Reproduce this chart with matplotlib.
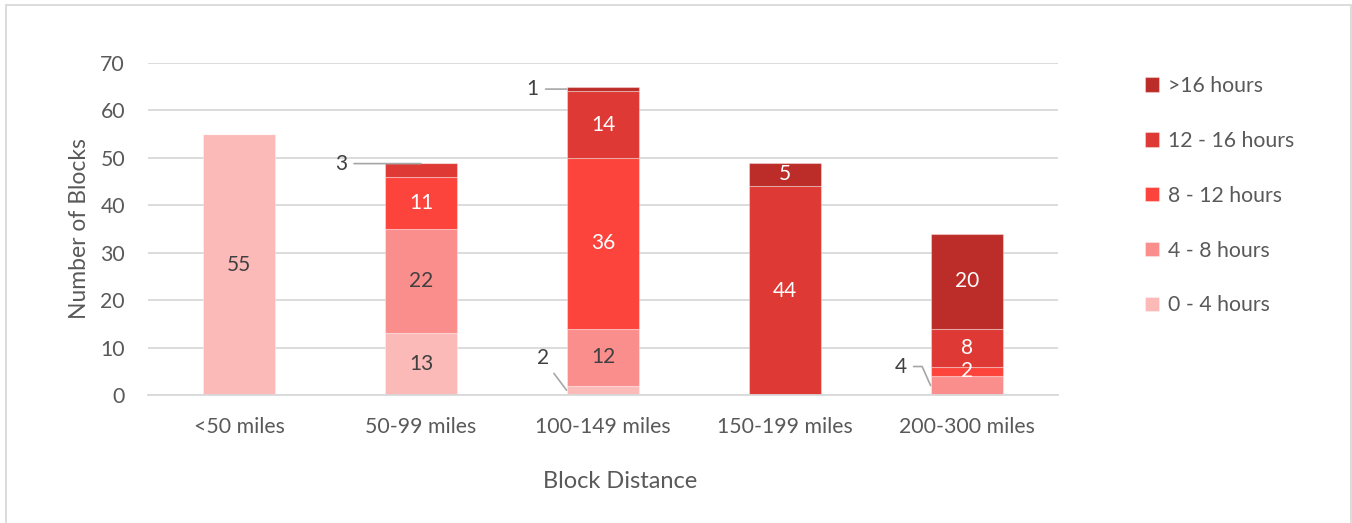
import matplotlib
matplotlib.use("Agg")
import matplotlib.pyplot as plt
from matplotlib.patches import Rectangle
import numpy as np

# Data
categories = ["<50 miles", "50-99 miles", "100-149 miles", "150-199 miles", "200-300 miles"]
series_names = ["0 - 4 hours", "4 - 8 hours", "8 - 12 hours", "12 - 16 hours", ">16 hours"]
hours_0_4 = [55, 13, 2, 0, 0]
hours_4_8 = [0, 22, 12, 0, 4]
hours_8_12 = [0, 11, 36, 0, 2]
hours_12_16 = [0, 3, 14, 44, 8]
hours_16_plus = [0, 0, 1, 5, 20]
y_ticks = [0, 10, 20, 30, 40, 50, 60, 70]

series = [hours_0_4, hours_4_8, hours_8_12, hours_12_16, hours_16_plus]
colors = ["#FBB9B7", "#F98E8C", "#FC433C", "#DE3934", "#BC2C28"]
label_colors = ["#404040", "#404040", "white", "white", "white"]

# small segments get a callout instead of an inside label:
# (category index, series index) -> (offset x px, offset y px, anchor x, anchor y frac, connection)
callouts = {
    (1, 3): (-80, 0, 0.0, 0.93, "arc3"),
    (2, 4): (-34, 0, -0.2, 0.5, "arc3"),
    (2, 0): (-24, 32, -0.2, 0.5, "arc3"),
    (4, 1): (-30, 19, -0.2, 0.5, "angle,angleA=0,angleB=114,rad=0"),
}

plt.rcParams["font.family"] = ["Lato", "DejaVu Sans"]
W, H, DPI = 1352, 523, 100
fig = plt.figure(figsize=(W / DPI, H / DPI), dpi=DPI)

# outer chart border (bottom edge runs past the canvas)
fig.patches.append(Rectangle((6 / W, -0.02), (W - 7) / W, 1.02 - 5 / H, transform=fig.transFigure,
                             fill=False, edgecolor="#D9D9D9", linewidth=1.3))

ax = fig.add_axes([148 / W, 1 - 395 / H, 910 / W, 332 / H])
x = np.arange(len(categories))
bar_w = 0.4
bottom = np.zeros(len(categories))
handles = []
for s, (vals, name, col, lc) in enumerate(zip(series, series_names, colors, label_colors)):
    vals = np.array(vals, dtype=float)
    bars = ax.bar(x, vals, bar_w, bottom=bottom, color=col, label=name,
                  edgecolor=(1, 1, 1, 0.35), linewidth=0.8, zorder=2)
    handles.append(bars)
    for i, v in enumerate(vals):
        if v <= 0:
            continue
        if (i, s) in callouts:
            dx, dy, ax_off, yfrac, conn = callouts[(i, s)]
            ax.annotate(f"{int(v)}", xy=(i + ax_off, bottom[i] + v * yfrac),
                        xytext=(dx, dy), textcoords="offset pixels",
                        ha="center", va="center", fontsize=15, color="#404040",
                        arrowprops=dict(arrowstyle="-", color="#A6A6A6", lw=1.2,
                                        shrinkA=3, shrinkB=0, connectionstyle=conn),
                        zorder=4)
        else:
            ax.text(i, bottom[i] + v / 2, f"{int(v)}", ha="center", va="center",
                    fontsize=15, color=lc, zorder=3)
    bottom += vals

ax.set_xlim(-0.5, len(categories) - 0.5)
ax.set_ylim(0, 70)
ax.set_yticks(y_ticks)
ax.set_xticks(x)
ax.set_xticklabels(categories)
ax.yaxis.grid(True, color="#D9D9D9", linewidth=1.3, zorder=0)
ax.set_axisbelow(True)
for side in ["top", "right", "left"]:
    ax.spines[side].set_visible(False)
ax.spines["bottom"].set_color("#D9D9D9")
ax.spines["bottom"].set_linewidth(1.3)
ax.tick_params(axis="both", length=0, labelsize=15.3, labelcolor="#595959")
ax.tick_params(axis="y", pad=16.5)
ax.tick_params(axis="x", pad=16)

fig.text(80 / W, 1 - 229 / H, "Number of Blocks", rotation=90, ha="center", va="center",
         fontsize=16.5, color="#595959")
fig.text(620 / W, 1 - 481 / H, "Block Distance", ha="center", va="center",
         fontsize=17, color="#595959")

leg = fig.legend(handles[::-1], series_names[::-1], loc="upper left",
                 bbox_to_anchor=(1145 / W, 1 - 76 / H), frameon=False,
                 fontsize=15.3, labelcolor="#595959", handlelength=0.66, handleheight=0.66,
                 handletextpad=0.4, labelspacing=1.64, borderpad=0, borderaxespad=0)

fig.savefig("out.png", dpi=DPI)
